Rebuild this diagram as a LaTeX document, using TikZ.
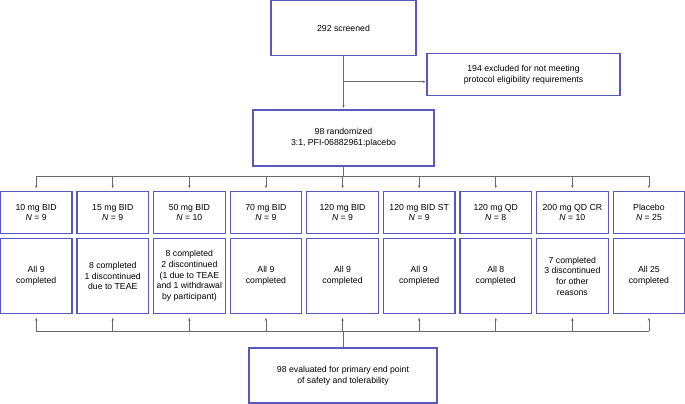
\documentclass[tikz,border=0pt]{standalone}
\usepackage{fontspec}
\setmainfont{Liberation Sans}
\usetikzlibrary{arrows.meta}
\definecolor{boxblue}{RGB}{88,88,190}
\definecolor{lineg}{RGB}{105,105,105}
\begin{document}
\begin{tikzpicture}[x=1pt,y=-1pt,
  box/.style={draw=boxblue,line width=1.1pt,fill=white,inner sep=0pt,align=center,
    font=\fontsize{8.7}{10.7}\selectfont},
  conn/.style={draw=lineg,line width=0.6pt},
  arr/.style={conn,-{Stealth[length=3pt,width=2.4pt]}}]
\useasboundingbox (0,0) rectangle (685,404);
\fill[white] (0,0) rectangle (685,404);
% top boxes
\node[box,minimum width=145pt,minimum height=55pt] (scr) at (343.5,28.3) {292 screened};
\node[box,minimum width=193pt,minimum height=42pt] (exc) at (523.5,74.5) {194 excluded for not meeting\\protocol eligibility requirements};
\node[box,minimum width=181pt,minimum height=56pt] (rand) at (343.5,138) {98 randomized\\3:1, PFI-06882961:placebo};
\node[box,minimum width=188pt,minimum height=55pt] (eval) at (343,375.5) {98 evaluated for primary end point\\of safety and tolerability};
% rows
\foreach \i/\a/\b in {1/{10 mg BID}/{9},2/{15 mg BID}/{9},3/{50 mg BID}/{10},4/{70 mg BID}/{9},5/{120 mg BID}/{9},6/{120 mg BID ST}/{9},7/{120 mg QD}/{8},8/{200 mg QD CR}/{10},9/{Placebo}/{25}}{
  \node[box,minimum width=71.6pt,minimum height=42.5pt] (g\i) at ({(\i-1)*76.6+36.15},212.5) {\a\\\textit{N} = \b};
}
\node[box,minimum width=71.6pt,minimum height=75.5pt] (c1) at ({0*76.6+36.15},276) {All 9\\completed};
\node[box,minimum width=71.6pt,minimum height=75.5pt] (c2) at ({1*76.6+36.15},276) {8 completed\\1 discontinued\\due to TEAE};
\node[box,minimum width=71.6pt,minimum height=75.5pt] (c3) at ({2*76.6+36.15},276) {8 completed\\2 discontinued\\(1 due to TEAE\\and 1 withdrawal\\by participant)};
\node[box,minimum width=71.6pt,minimum height=75.5pt] (c4) at ({3*76.6+36.15},276) {All 9\\completed};
\node[box,minimum width=71.6pt,minimum height=75.5pt] (c5) at ({4*76.6+36.15},276) {All 9\\completed};
\node[box,minimum width=71.6pt,minimum height=75.5pt] (c6) at ({5*76.6+36.15},276) {All 9\\completed};
\node[box,minimum width=71.6pt,minimum height=75.5pt] (c7) at ({6*76.6+36.15},276) {All 8\\completed};
\node[box,minimum width=71.6pt,minimum height=75.5pt] (c8) at ({7*76.6+36.15},276) {7 completed\\3 discontinued\\for other\\reasons};
\node[box,minimum width=71.6pt,minimum height=75.5pt] (c9) at ({8*76.6+36.15},276) {All 25\\completed};
% connectors top
\coordinate (br) at (343.5,81.7);
\coordinate (brE) at (427,81.7);
\draw[arr,shorten >=1.5pt] (scr.south) -- (rand.north);
\draw[arr,shorten >=1.5pt] (br) -- (brE);
\coordinate (hT) at (343.5,176);
\draw[conn] (rand.south) -- (hT);
\draw[conn] (g1.north |- hT) -- (g9.north |- hT);
\foreach \i in {1,...,9}{
  \draw[arr,shorten >=2.5pt] (g\i.north |- hT) -- (g\i.north);
}
% connectors bottom
\coordinate (hB) at (343,331);
\draw[conn] (eval.north) -- (hB);
\draw[conn] (c1.south |- hB) -- (c9.south |- hB);
\foreach \i in {1,...,9}{
  \draw[arr,shorten >=3.5pt] (c\i.south |- hB) -- (c\i.south);
}
\end{tikzpicture}
\end{document}
